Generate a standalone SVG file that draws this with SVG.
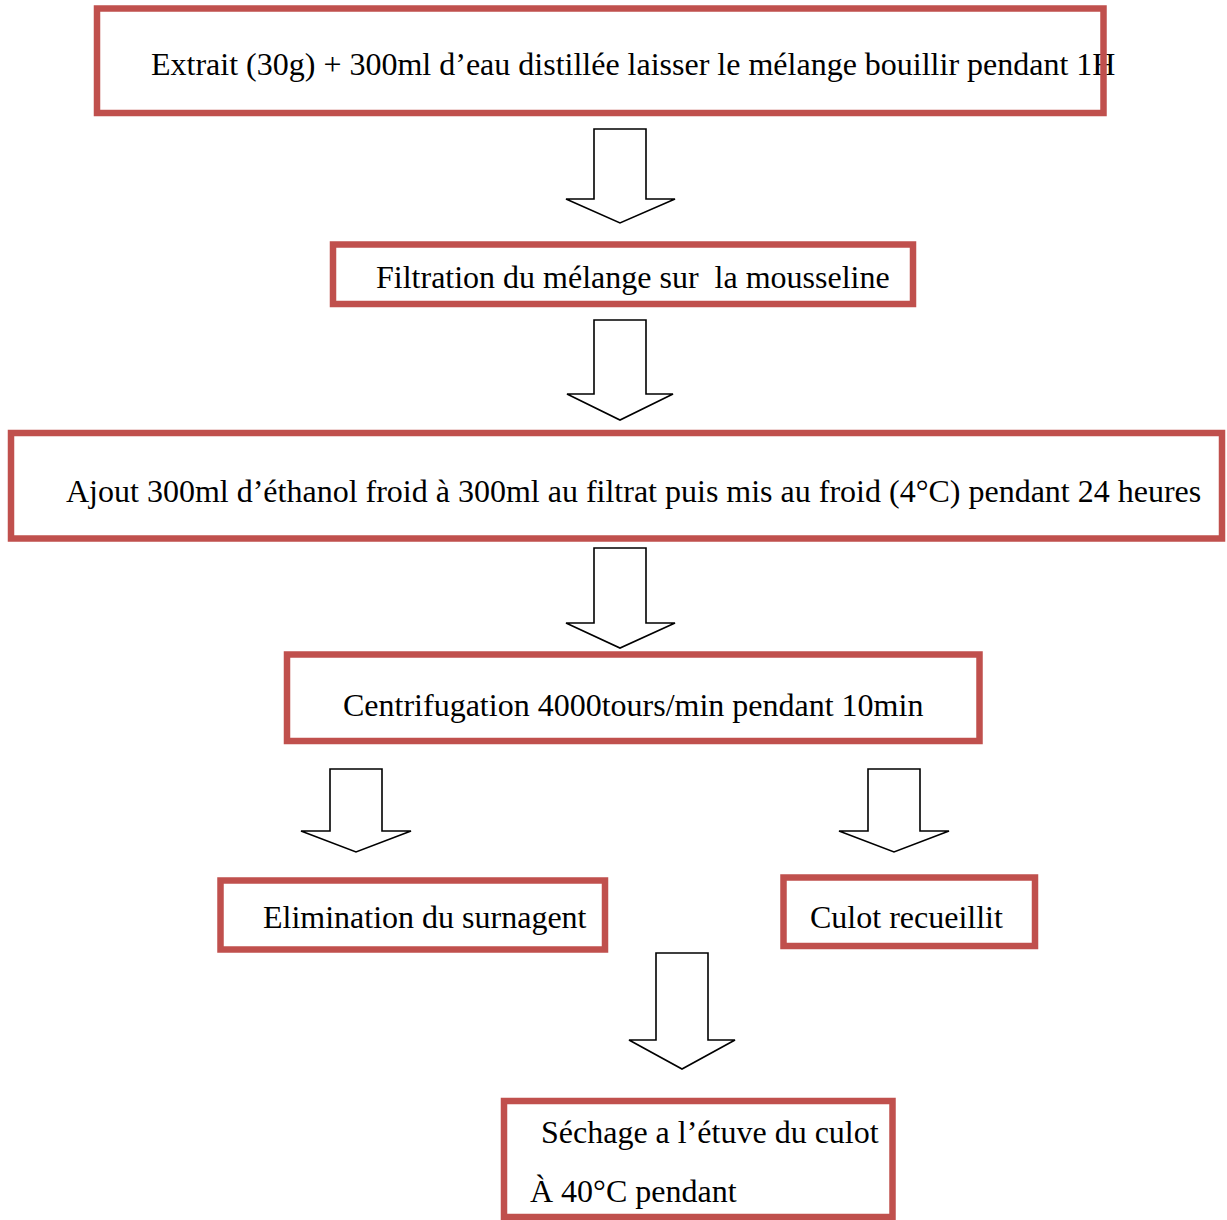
<svg xmlns="http://www.w3.org/2000/svg" width="1227" height="1220" viewBox="0 0 1227 1220">
<style>
.box{fill:none;stroke:#C0504D;stroke-width:6.5}
.arr{fill:#fff;stroke:#000;stroke-width:1.6;stroke-linejoin:miter}
text{font-family:"Liberation Serif","Times New Roman",serif;font-size:32px;fill:#000;white-space:pre}
</style>
<rect width="1227" height="1220" fill="#fff"/>
<g id="connectors">
<polygon class="arr" points="594,129 646,129 646,199 675,199 620,223 566,199 594,199"/>
<polygon class="arr" points="594,320 646,320 646,394 673,394 620,420 567,394 594,394"/>
<polygon class="arr" points="594,548 646,548 646,623 675,623 620,648 566,623 594,623"/>
<polygon class="arr" points="330,769 382,769 382,831 411,831 356,852 301,831 330,831"/>
<polygon class="arr" points="868,769 920,769 920,831 949,831 894,852 839,831 868,831"/>
<polygon class="arr" points="656,953 708,953 708,1040 735,1040 682,1069 629,1040 656,1040"/>
</g>
<g id="n1">
<text x="151" y="75">Extrait (30g) + 300ml d’eau distillée laisser le mélange bouillir pendant 1H</text>
<rect class="box" x="97" y="8.5" width="1006.5" height="104.5"/>
</g>
<g id="n2">
<rect class="box" x="333" y="244.5" width="580" height="59.5"/>
<text x="376" y="288">Filtration du mélange sur  la mousseline</text>
</g>
<g id="n3">
<rect class="box" x="11" y="433" width="1211" height="105.5"/>
<text x="66" y="502">Ajout 300ml d’éthanol froid à 300ml au filtrat puis mis au froid (4°C) pendant 24 heures</text>
</g>
<g id="n4">
<rect class="box" x="287" y="654.5" width="692.5" height="86.5"/>
<text x="343" y="716">Centrifugation 4000tours/min pendant 10min</text>
</g>
<g id="n5">
<rect class="box" x="220.5" y="880.5" width="384.5" height="69"/>
<text x="263" y="928">Elimination du surnagent</text>
</g>
<g id="n6">
<rect class="box" x="783.5" y="877.5" width="251.5" height="68.5"/>
<text x="810" y="928">Culot recueillit</text>
</g>
<g id="n7">
<rect class="box" x="504" y="1101" width="388.5" height="116"/>
<text x="541" y="1143">Séchage a l’étuve du culot</text>
<text x="530" y="1202">À 40°C pendant</text>
</g>
</svg>
